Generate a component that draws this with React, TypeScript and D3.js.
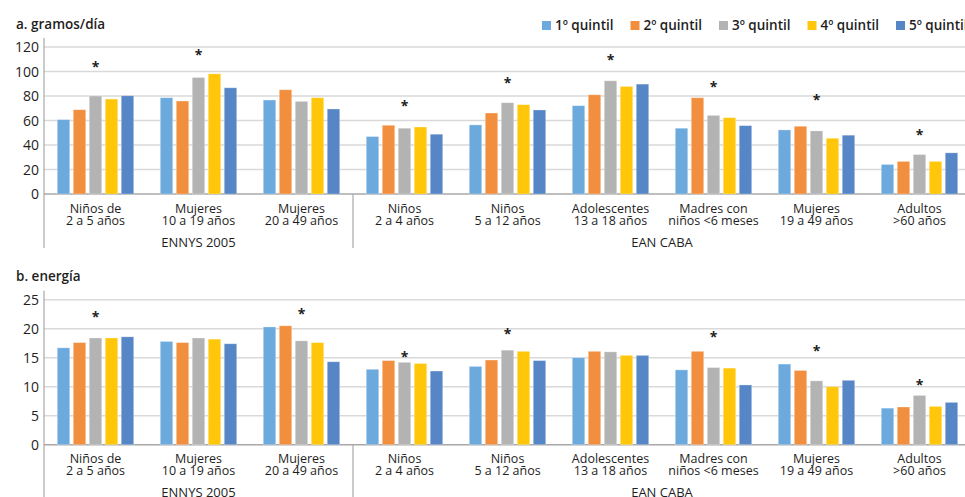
import React from 'react'
import * as d3 from 'd3'

const categories = [
  ['Niños de', '2 a 5 años'],
  ['Mujeres', '10 a 19 años'],
  ['Mujeres', '20 a 49 años'],
  ['Niños', '2 a 4 años'],
  ['Niños', '5 a 12 años'],
  ['Adolescentes', '13 a 18 años'],
  ['Madres con', 'niños <6 meses'],
  ['Mujeres', '19 a 49 años'],
  ['Adultos', '>60 años'],
]
const surveyNames = ['ENNYS 2005', 'EAN CABA']
const surveySpans = [3, 6]

const quintiles = ['1º quintil', '2º quintil', '3º quintil', '4º quintil', '5º quintil']
const colors = ['#6caade', '#f28f3f', '#b3b3b3', '#ffc60a', '#5686c6']

// a. gramos/día, one array per quintil
const gramosQ1 = [60.7, 78.6, 76.7, 46.9, 56.4, 72.1, 53.7, 52.3, 24.1]
const gramosQ2 = [68.8, 75.9, 85.1, 56.1, 66.1, 81, 78.6, 55.3, 26.6]
const gramosQ3 = [80, 95.1, 75.6, 53.7, 74.5, 92.4, 64.2, 51.5, 32.2]
const gramosQ4 = [77.5, 98.1, 78.6, 54.7, 72.9, 87.8, 62.3, 45.5, 26.6]
const gramosQ5 = [80.2, 86.7, 69.4, 48.8, 68.6, 89.7, 55.8, 48, 33.6]
const gramosStars = [106.5, 116, null, 74, 92.7, 111.7, 90.2, 79.1, 51]
const gramosTicks = [0, 20, 40, 60, 80, 100, 120]

// b. energía
const energiaQ1 = [16.7, 17.8, 20.3, 13.0, 13.5, 15.0, 12.9, 13.9, 6.3]
const energiaQ2 = [17.6, 17.6, 20.5, 14.5, 14.6, 16.1, 16.1, 12.8, 6.5]
const energiaQ3 = [18.4, 18.4, 17.9, 14.2, 16.3, 16.0, 13.3, 11.0, 8.5]
const energiaQ4 = [18.4, 18.2, 17.6, 14.0, 16.1, 15.4, 13.2, 10.0, 6.6]
const energiaQ5 = [18.6, 17.4, 14.3, 12.7, 14.5, 15.4, 10.3, 11.1, 7.3]
const energiaStars = [22.5, null, 23.1, 15.6, 19.6, null, 19.1, 16.7, 10.8]
const energiaTicks = [0, 5, 10, 15, 20, 25]

const font = "'Open Sans', sans-serif"
const textColor = '#1e1e1e'
const left = 44
const right = 971

const x0 = d3
  .scaleBand<number>()
  .domain(d3.range(categories.length))
  .range([left, right])
  .padding(0)

const x1 = d3
  .scaleBand<number>()
  .domain(d3.range(quintiles.length))
  .range([0, x0.bandwidth()])
  .paddingInner(0.22)
  .paddingOuter(0.83)

type PanelProps = {
  title: string
  series: number[][]
  stars: (number | null)[]
  ticks: number[]
  zeroY: number
  topY: number
}

const Panel = ({ title, series, stars, ticks, zeroY, topY }: PanelProps) => {
  const y = d3
    .scaleLinear()
    .domain([0, ticks[ticks.length - 1]])
    .range([zeroY, topY])

  // where the survey groups split
  let acc = 0
  const splits = surveySpans.map(n => {
    const start = acc
    acc += n
    return { start, end: acc }
  })

  return (
    <g fontFamily={font} fill={textColor}>
      <text x={16} y={topY - 18.5} fontSize={13.5} fontWeight={600}>
        {title}
      </text>

      {ticks.map(t => (
        <g key={t}>
          <line
            x1={left}
            x2={right}
            y1={y(t)}
            y2={y(t)}
            stroke={t === 0 ? '#a8a8a8' : '#d9d9d9'}
            strokeWidth={1.5}
          />
          <text x={39} y={y(t)} dy="0.36em" textAnchor="end" fontSize={14}>
            {t}
          </text>
        </g>
      ))}

      <line x1={left} x2={left} y1={topY - 9} y2={zeroY + 54} stroke="#a8a8a8" strokeWidth={1.2} />
      {splits.slice(1).map((s, i) => (
        <line
          key={i}
          x1={x0(s.start)!}
          x2={x0(s.start)!}
          y1={zeroY}
          y2={zeroY + 54}
          stroke="#a8a8a8"
          strokeWidth={1.2}
        />
      ))}

      {series.map((vals, qi) =>
        vals.map((v, ci) => (
          <rect
            key={`${qi}-${ci}`}
            x={x0(ci)! + x1(qi)!}
            y={y(v)}
            width={x1.bandwidth()}
            height={zeroY - y(v)}
            fill={colors[qi]}
            stroke="#ffffff"
            strokeOpacity={0.35}
            strokeWidth={0.8}
          />
        )),
      )}

      {stars.map((s, ci) =>
        s == null ? null : (
          <text
            key={ci}
            x={x0(ci)! + x0.bandwidth() / 2}
            y={y(s) + 8}
            textAnchor="middle"
            fontSize={14}
            fontWeight={700}
          >
            *
          </text>
        ),
      )}

      {categories.map((lines, ci) => (
        <text key={ci} textAnchor="middle" fontSize={12.5}>
          {lines.map((l, li) => (
            <tspan key={li} x={x0(ci)! + x0.bandwidth() / 2} y={zeroY + 18.5 + li * 12}>
              {l}
            </tspan>
          ))}
        </text>
      ))}

      {splits.map((s, i) => (
        <text
          key={i}
          x={(x0(s.start)! + (s.end < categories.length ? x0(s.end)! : right)) / 2}
          y={zeroY + 52.5}
          textAnchor="middle"
          fontSize={13}
        >
          {surveyNames[i]}
        </text>
      ))}
    </g>
  )
}

const Legend = () => (
  <g fontFamily={font} fill={textColor}>
    {quintiles.map((q, i) => {
      const lx = 542 + i * 88.5
      return (
        <g key={q}>
          <rect x={lx} y={21} width={9} height={9} fill={colors[i]} />
          <text x={lx + 13} y={25.5} dy="0.35em" fontSize={13.5} fontWeight={600}>
            {q}
          </text>
        </g>
      )
    })}
  </g>
)

export default function App() {
  return (
    <svg
      width={965}
      height={497}
      style={{ position: 'absolute', left: 0, top: 0, background: '#fff' }}
    >
      <Panel
        title="a. gramos/día"
        series={[gramosQ1, gramosQ2, gramosQ3, gramosQ4, gramosQ5]}
        stars={gramosStars}
        ticks={gramosTicks}
        zeroY={194}
        topY={47}
      />
      <Panel
        title="b. energía"
        series={[energiaQ1, energiaQ2, energiaQ3, energiaQ4, energiaQ5]}
        stars={energiaStars}
        ticks={energiaTicks}
        zeroY={444.7}
        topY={299.7}
      />
      <Legend />
    </svg>
  )
}
